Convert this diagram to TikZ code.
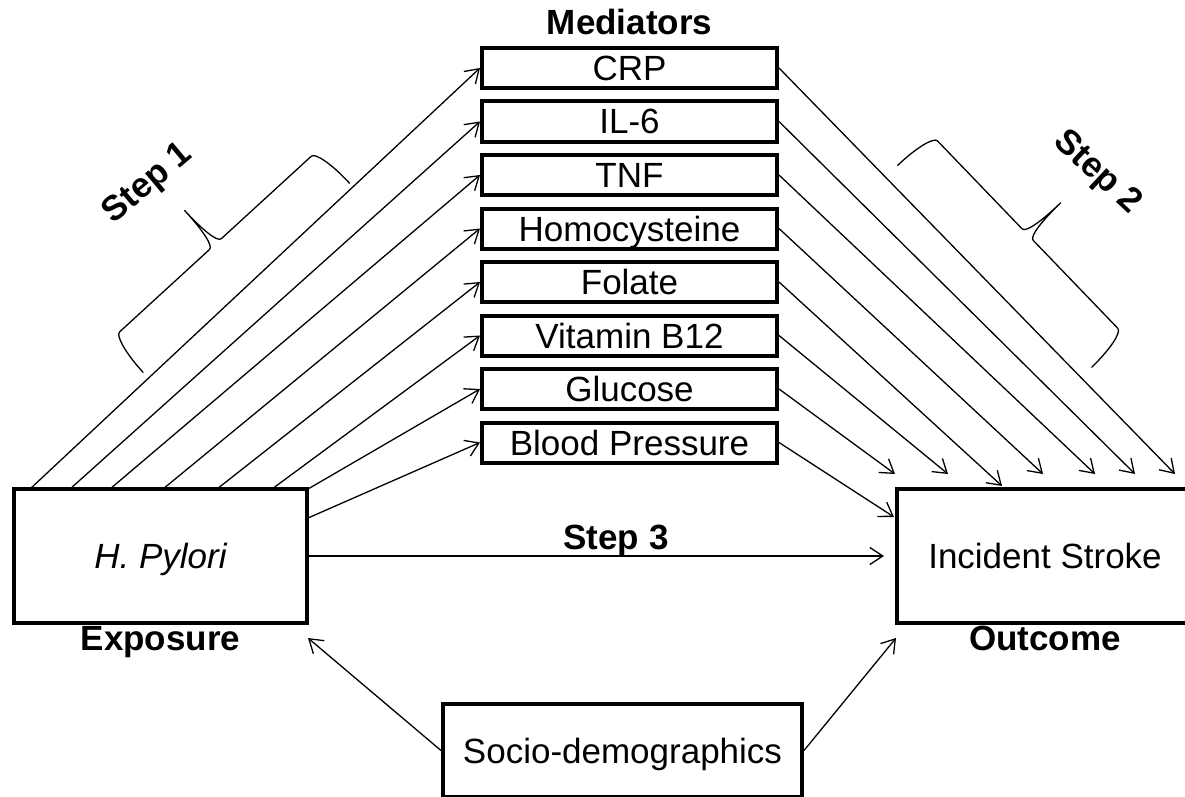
\documentclass[tikz,border=0pt]{standalone}
\usepackage{fontspec}
\setmainfont{Liberation Sans}
\usetikzlibrary{arrows.meta,calc}
\begin{document}
\begin{tikzpicture}[x=1pt,y=-1pt,
  box/.style={draw, line width=4pt, inner sep=0pt, text height=25pt, text depth=0pt, font=\fontsize{35}{42}\selectfont},
  med/.style={box, minimum width=295pt, minimum height=40pt},
  big/.style={box, minimum height=134pt},
  lab/.style={font=\fontsize{35}{42}\selectfont\bfseries, inner sep=0pt, anchor=base},
  arr/.style={-{Straight Barb[length=13pt,width=17pt]}, line width=1.3pt},
  bracepath/.style={line width=1.3pt}]
\useasboundingbox (0,0) rectangle (1185,797);
\clip (0,0) rectangle (1185,797);

% title
\node[lab] (medt) at (629.5,35) {Mediators};

% mediators
\node[med] (m1) at (629.5,68) {CRP};
\node[med] (m2) at (629.5,121.5) {IL-6};
\node[med] (m3) at (629.5,175) {TNF};
\node[med] (m4) at (629.5,228.5) {Homocysteine};
\node[med] (m5) at (629.5,282) {Folate};
\node[med] (m6) at (629.5,335.5) {Vitamin B12};
\node[med] (m7) at (629.5,389) {Glucose};
\node[med] (m8) at (629.5,442.5) {Blood Pressure};

% exposure / outcome / confounders
\node[big, minimum width=293pt] (hp) at (160.5,556) {\itshape H. Pylori};
\node[big, minimum width=296pt] (is) at (1045,556) {Incident Stroke};
\node[box, minimum width=359pt, minimum height=93pt] (sd) at (622.5,750.5) {Socio-demographics};

\node[lab] (expo) at (160.5,650) {Exposure};
\node[lab] (outc) at (1045,650) {Outcome};
\node[lab] (s3) at (616,549) {Step 3};
\node[lab, anchor=center, rotate=40] (s1) at (148,184) {Step 1};
\node[lab, anchor=center, rotate=-43] (s2) at (1097,173) {Step 2};

% step 1 start points on exposure box
\coordinate (a1) at (30,489);
\coordinate (a2) at (70,489);
\coordinate (a3) at (110,489);
\coordinate (a4) at (163,489);
\coordinate (a5) at (217,489);
\coordinate (a6) at (272,489);
\coordinate (a7) at (308,489);
\coordinate (a8) at (308,518);
% step 2 end points
\coordinate (b1) at (1175,474);
\coordinate (b2) at (1135,474);
\coordinate (b3) at (1095,474);
\coordinate (b4) at (1043,474);
\coordinate (b5) at (1002,486);
\coordinate (b6) at (948,474);
\coordinate (b7) at (895,474);
\coordinate (b8) at (894,517);
% other free ends
\coordinate (c3) at (884,556);
\coordinate (d1) at (308,638);
\coordinate (d2) at (896,638);

\foreach \i in {1,...,8}{
  \draw[arr] (a\i) -- (m\i.west);
  \draw[arr] (m\i.east) -- (b\i);
}
\draw[arr] (hp.east) -- (c3);
\draw[arr] (sd.west) -- (d1);
\draw[arr] (sd.east) -- (d2);

% braces
\begin{scope}[shift={(246.5,278)}, rotate=42.5]
\draw[bracepath] (-140pt,0pt) .. controls (-140pt,25.4pt) and (-135.5pt,46pt) .. (-130pt,46pt)
  -- (-8pt,46pt) .. controls (-2.5pt,46pt) and (0pt,66.6pt) .. (0pt,92pt)
  .. controls (0pt,66.6pt) and (2.5pt,46pt) .. (8pt,46pt)
  -- (130pt,46pt) .. controls (135.5pt,46pt) and (140pt,25.4pt) .. (140pt,0pt);
\end{scope}
\begin{scope}[shift={(994.5,266.5)}, rotate=-46.1]
\draw[bracepath] (-140pt,0pt) .. controls (-140pt,25.4pt) and (-135.5pt,46pt) .. (-130pt,46pt)
  -- (-8pt,46pt) .. controls (-2.5pt,46pt) and (0pt,66.6pt) .. (0pt,92pt)
  .. controls (0pt,66.6pt) and (2.5pt,46pt) .. (8pt,46pt)
  -- (130pt,46pt) .. controls (135.5pt,46pt) and (140pt,25.4pt) .. (140pt,0pt);
\end{scope}
\end{tikzpicture}
\end{document}
